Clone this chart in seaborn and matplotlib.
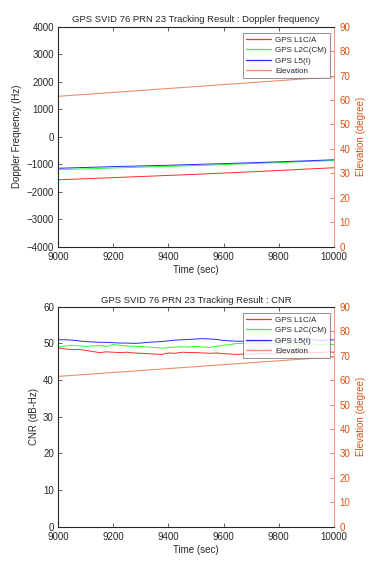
import numpy as np
import pandas as pd
import matplotlib
matplotlib.use('Agg')
import matplotlib.pyplot as plt
from matplotlib.lines import Line2D
import seaborn as sns

sns.set_style('white')
plt.rcParams['font.family'] = ['Liberation Sans', 'DejaVu Sans']

# ---- data ----
time_coarse = [9000, 9100, 9200, 9300, 9400, 9500, 9600, 9700, 9800, 9900, 10000]
doppler_l1 = [-1570, -1530, -1490, -1450, -1410, -1370, -1325, -1280, -1230, -1180, -1130]
doppler_l2 = [-1200, -1170, -1140, -1110, -1080, -1050, -1015, -980, -945, -905, -870]
doppler_l5 = [-1150, -1120, -1090, -1065, -1040, -1010, -980, -950, -915, -880, -840]
elev_top = [61.5, 62.3, 63.1, 63.9, 64.7, 65.5, 66.3, 67.1, 67.9, 68.7, 69.5]

time_fine = [9000, 9025, 9050, 9075, 9100, 9125, 9150, 9175, 9200, 9225,
             9250, 9275, 9300, 9325, 9350, 9375, 9400, 9425, 9450, 9475,
             9500, 9525, 9550, 9575, 9600, 9625, 9650, 9675, 9700, 9725,
             9750, 9775, 9800, 9825, 9850, 9875, 9900, 9925, 9950, 9975, 10000]
cnr_l1 = [48.8, 48.5, 48.3, 48.4, 48.1, 47.8, 47.5, 47.7, 47.6, 47.5,
          47.6, 47.4, 47.3, 47.2, 47.1, 47.0, 47.4, 47.3, 47.6, 47.5,
          47.5, 47.4, 47.3, 47.4, 47.2, 47.1, 47.0, 47.1, 47.0, 47.2,
          47.3, 47.1, 47.2, 47.4, 47.3, 47.5, 47.4, 47.6, 47.5, 47.7, 47.6]
cnr_l2 = [49.0, 49.3, 49.5, 49.3, 49.2, 49.3, 49.4, 49.2, 49.7, 49.5,
          49.3, 49.2, 49.2, 49.0, 48.9, 48.7, 48.9, 49.0, 49.1, 49.0,
          49.2, 49.0, 48.9, 49.2, 49.5, 49.7, 50.0, 50.0, 49.9, 50.1,
          49.9, 50.0, 49.8, 50.0, 49.9, 49.7, 49.8, 49.9, 49.6, 49.8, 49.7]
cnr_l5 = [51.0, 51.0, 50.9, 50.7, 50.5, 50.4, 50.3, 50.3, 50.2, 50.1,
          50.1, 50.0, 50.1, 50.3, 50.4, 50.5, 50.7, 50.9, 51.0, 51.1,
          51.2, 51.3, 51.2, 51.1, 50.8, 50.7, 50.6, 50.6, 50.6, 50.7,
          50.6, 50.7, 50.8, 50.7, 50.9, 50.8, 50.9, 51.0, 50.8, 50.9, 51.0]
elev_bottom = [61.5, 61.7, 61.9, 62.1, 62.3, 62.5, 62.7, 62.9, 63.1, 63.3,
               63.5, 63.7, 63.9, 64.1, 64.3, 64.5, 64.7, 64.9, 65.1, 65.3,
               65.5, 65.7, 65.9, 66.1, 66.3, 66.5, 66.7, 66.9, 67.1, 67.3,
               67.5, 67.7, 67.9, 68.1, 68.3, 68.5, 68.7, 68.9, 69.1, 69.3, 69.5]

labels = ['GPS L1C/A', 'GPS L2C(CM)', 'GPS L5(I)']
colors = ['#ff2a2a', '#2aff2a', '#2a2aff']
elev_color = '#f08c6a'
right_color = '#d95319'
fs = 7


def style_axes(ax, ax2, ylim, yticks, ylabel):
    ax.set_xlim(9000, 10000)
    ax.set_xticks(range(9000, 10001, 200))
    ax.set_ylim(*ylim)
    ax.set_yticks(yticks)
    ax.set_ylabel(ylabel, fontsize=fs, labelpad=3)
    ax.set_xlabel('Time (sec)', fontsize=fs, labelpad=2)
    ax.tick_params(axis='x', direction='in', length=3, width=0.5, labelsize=fs,
                   top=True, bottom=True, pad=4)
    ax.tick_params(axis='y', direction='in', length=3, width=0.5, labelsize=fs,
                   left=True, right=False, pad=3)
    for s in ax.spines.values():
        s.set_linewidth(0.6)
        s.set_color('#404040')
    ax2.set_ylim(0, 90)
    ax2.set_yticks(range(0, 91, 10))
    ax2.tick_params(direction='in', length=3, width=0.5, labelsize=fs,
                    colors=right_color, pad=4)
    ax2.spines['right'].set_color('#f0a080')
    ax2.spines['right'].set_linewidth(0.8)
    ax2.set_ylabel('Elevation (degree)', fontsize=fs, color=right_color, labelpad=4)


def draw(ax, t, series, t_el, el, title, ylim, yticks, ylabel):
    for vals, col in zip(series, colors):
        df = pd.DataFrame({'t': t, 'v': vals})
        sns.lineplot(data=df, x='t', y='v', ax=ax, color=col, linewidth=0.7, legend=False)
    ax2 = ax.twinx()
    df = pd.DataFrame({'t': t_el, 'v': el})
    sns.lineplot(data=df, x='t', y='v', ax=ax2, color=elev_color, linewidth=0.8, legend=False)
    handles = [Line2D([], [], color=c, linewidth=0.9) for c in colors]
    handles.append(Line2D([], [], color=elev_color, linewidth=1.0))
    leg = ax2.legend(handles, labels + ['Elevation'], loc='upper right', fontsize=5.8,
                     frameon=True, fancybox=False, edgecolor='#404040',
                     handlelength=3.1, handletextpad=0.5, borderpad=0.35,
                     labelspacing=0.35, borderaxespad=0,
                     bbox_to_anchor=(0.985, 0.97))
    leg.get_frame().set_linewidth(0.5)
    style_axes(ax, ax2, ylim, yticks, ylabel)
    ax.set_title(title, fontsize=6.8, pad=3)


fig = plt.figure(figsize=(3.82, 5.67), dpi=100)
ax_top = fig.add_axes([0.152, 0.565, 0.722, 0.388])
ax_bot = fig.add_axes([0.152, 0.071, 0.722, 0.388])

draw(ax_top, time_coarse, [doppler_l1, doppler_l2, doppler_l5], time_coarse, elev_top,
     'GPS SVID 76 PRN 23 Tracking Result : Doppler frequency',
     (-4000, 4000), range(-4000, 4001, 1000), 'Doppler Frequency (Hz)')
draw(ax_bot, time_fine, [cnr_l1, cnr_l2, cnr_l5], time_fine, elev_bottom,
     'GPS SVID 76 PRN 23 Tracking Result : CNR',
     (0, 60), range(0, 61, 10), 'CNR (dB-Hz)')

fig.savefig('out.png', dpi=100)
